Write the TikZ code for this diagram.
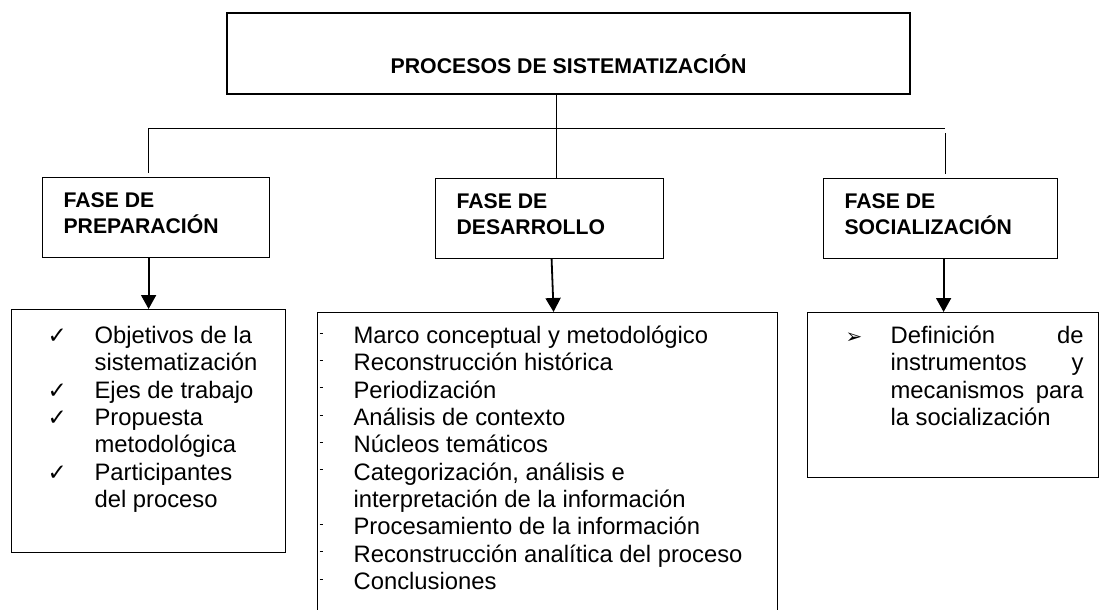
\documentclass[tikz,border=0pt]{standalone}
\usepackage{fontspec}
\setmainfont{Liberation Sans}
\newfontfamily\symfont{DejaVu Sans}
\usepackage{tikz}
\usetikzlibrary{arrows.meta}

\newcommand{\ck}{{\symfont\fontsize{23}{23}\selectfont ✓}}
\newcommand{\arw}{{\symfont\fontsize{20}{20}\selectfont ➢}}
\newcommand{\chkitem}[1]{\hspace*{36pt}\makebox[47pt][l]{\ck}#1}
\newcommand{\chkcont}[1]{\hspace*{83pt}#1}
\newcommand{\dotitem}[1]{\hspace*{2pt}\makebox[34pt][l]{\rule[10pt]{3pt}{0.8pt}}#1}
\newcommand{\dotcont}[1]{\hspace*{36pt}#1}

\tikzset{
  box/.style={draw, line width=1.2pt, inner sep=0pt, anchor=north west},
  phasebox/.style={box, inner xsep=21pt, text height=30pt, text depth=50pt,
    font=\bfseries\fontsize{21.2}{26}\selectfont},
  listbox/.style={box, font=\fontsize{23.8}{27.3}\selectfont},
  link/.style={line width=1pt},
  >={Triangle[width=15pt,length=14pt]}
}

\begin{document}
\begin{tikzpicture}[x=1pt,y=-1pt]
\useasboundingbox (0,0) rectangle (1101,610);

\node[box, line width=2pt, minimum width=683pt, minimum height=81pt,
  text height=41pt, text depth=0pt, font=\bfseries\fontsize{21.3}{24}\selectfont]
  (top) at (226,12) {PROCESOS DE SISTEMATIZACIÓN};

\node[phasebox] (prep) at (42,177) {\parbox[t]{185pt}{FASE DE\\PREPARACIÓN}};
\node[phasebox] (desa) at (435,178) {\parbox[t]{186pt}{FASE DE\\DESARROLLO}};
\node[phasebox] (soci) at (823,178) {\parbox[t]{192pt}{FASE DE\\SOCIALIZACIÓN}};

\node[listbox, text height=34pt, text depth=209pt] (listprep) at (11,309) {\parbox[t]{274pt}{%
  \chkitem{Objetivos de la}\\
  \chkcont{sistematización}\\
  \chkitem{Ejes de trabajo}\\
  \chkitem{Propuesta}\\
  \chkcont{metodológica}\\
  \chkitem{Participantes}\\
  \chkcont{del proceso}}};

\node[listbox, text height=31pt, text depth=272pt] (listdesa) at (317,312) {\parbox[t]{460pt}{%
  \dotitem{Marco conceptual y metodológico}\\
  \dotitem{Reconstrucción histórica}\\
  \dotitem{Periodización}\\
  \dotitem{Análisis de contexto}\\
  \dotitem{Núcleos temáticos}\\
  \dotitem{Categorización, análisis e}\\
  \dotcont{interpretación de la información}\\
  \dotitem{Procesamiento de la información}\\
  \dotitem{Reconstrucción analítica del proceso}\\
  \dotitem{Conclusiones}}};

\node[listbox, text height=31pt, text depth=134pt] (listsoci) at (807,312) {\parbox[t]{291pt}{%
  \hspace*{38pt}\makebox[45pt][l]{\arw}\hbox to 193pt{Definición\hfill de}\\
  \hspace*{83pt}\hbox to 193pt{instrumentos\hfill y}\\
  \hspace*{83pt}\hbox to 193pt{mecanismos\hfill para}\\
  \hspace*{83pt}la socialización}};

\coordinate (barL) at (148,128);
\coordinate (barR) at (945,128);
\draw[link] ([xshift=-12.5pt]top.south) -- ([xshift=-12.5pt]top.south |- desa.north);
\draw[link] (barL) -- (barR);
\draw[link] (barL) -- ([yshift=4pt]barL |- prep.north);
\draw[link] ([yshift=-5pt]barR) -- ([yshift=4pt]barR |- soci.north);

\draw[line width=1.8pt,->] (prep.south -| listprep.north) -- (listprep.north);
\draw[line width=1.8pt,->] ([xshift=2pt]desa.south) -- ([xshift=6pt]listdesa.north);
\draw[line width=1.8pt,->] ([xshift=3pt]soci.south) -- ([xshift=3pt]soci.south |- listsoci.north);
\end{tikzpicture}
\end{document}
